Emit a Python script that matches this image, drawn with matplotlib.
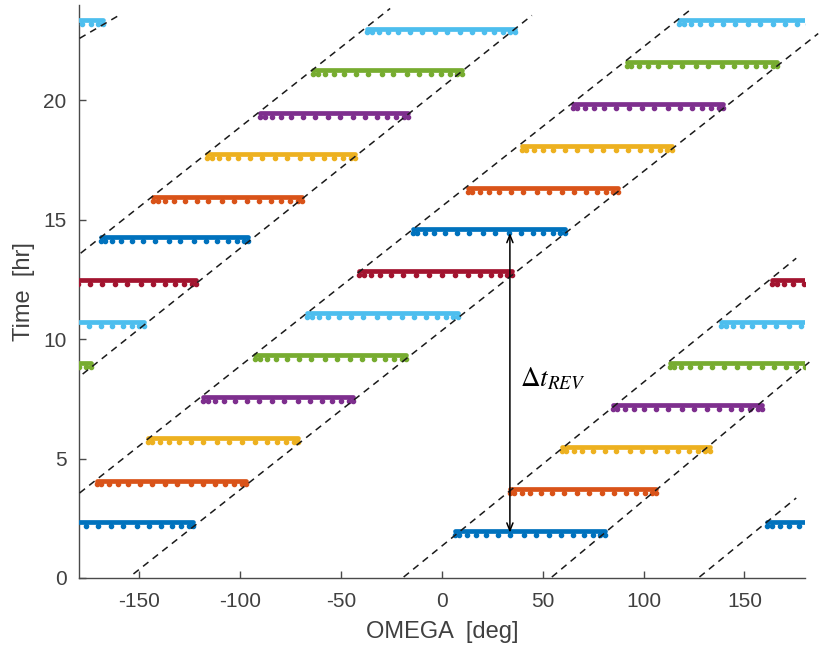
import numpy as np
import matplotlib
matplotlib.use("Agg")
import matplotlib.pyplot as plt

# MATLAB default colour order, cycled over consecutive passes
palette = ["#0072BD", "#D95319", "#EDB120", "#7E2F8E", "#77AC30", "#4DBEEE", "#A2142F"]

# First family of passes: time [hr], OMEGA at start and end of the pass [deg]
pass_a_time = [2.34, 4.07, 5.86, 7.57, 9.33, 11.09, 12.85, 14.60, 16.32, 18.08, 19.83, 21.59, 23.35]
pass_a_start = [161.4, -171.3, -146.0, -118.3, -92.6, -66.8, -41.1, -14.4, 12.9, 39.6, 64.9, 91.6, 117.8]
pass_a_end = [-123.3, -97.0, -71.3, -44.0, -17.8, 7.9, 34.7, 60.9, 87.1, 113.9, 139.6, 166.3, -168.3]

# Second family of passes
pass_b_time = [1.97, 3.72, 5.48, 7.24, 9.00, 10.70, 12.47, 14.27, 15.94, 17.74, 19.46, 21.26, 23.01]
pass_b_start = [6.4, 33.7, 59.4, 84.7, 112.9, 138.6, 163.9, -169.3, -143.1, -116.3, -90.1, -63.9, -37.1]
pass_b_end = [80.7, 106.4, 132.7, 158.9, -174.3, -148.0, -121.8, -96.0, -69.3, -43.1, -16.8, 9.9, 36.1]

# Relative positions of the sampled points along one pass (0 = start, 1 = end)
sample_frac = [0.0, 0.03, 0.08, 0.14, 0.21, 0.29, 0.37, 0.46, 0.54, 0.63, 0.71, 0.79, 0.86, 0.92, 0.97, 1.0]

# Visibility window boundaries (dashed): segment end points (OMEGA [deg], time [hr])
guide_x0 = [127.7, -179.7, -153.0, -179.7, -19.0, -179.2, 54.5, -178.2]
guide_t0 = [0.04, 3.56, 0.17, 22.60, 0.04, 13.60, 0.04, 8.54]
guide_x1 = [175.7, 122.8, 186.6, -159.4, 175.7, -25.7, 182.2, 44.6]
guide_t1 = [3.35, 23.77, 22.80, 23.60, 13.39, 23.85, 9.04, 23.56]

# Revisit interval marker
rev_omega = 33.7
rev_t_from = 1.90
rev_t_to = 14.45

x_ticks = [-150, -100, -50, 0, 50, 100, 150]
y_ticks = [0, 5, 10, 15, 20]

plt.rcParams["font.family"] = ["Liberation Sans", "DejaVu Sans"]
plt.rcParams["mathtext.fontset"] = "stix"
plt.rcParams["axes.unicode_minus"] = False

fig = plt.figure(figsize=(8.23, 6.52), dpi=100)
ax = fig.add_axes([0.096, 0.1135, 0.882, 0.879])

axis_grey = "#4a4a4a"
text_grey = "#404040"


def draw_pass(t, start, end, color):
    if end < start:
        end += 360.0
    frac = np.asarray(sample_frac)
    xs = start + (end - start) * frac
    for shift in (-360.0, 0.0, 360.0):
        ax.plot([start + shift, end + shift], [t, t], color=color, lw=3.4,
                solid_capstyle="round", zorder=3)
        ax.plot(xs + shift, np.full_like(xs, t - 0.15), linestyle="none",
                marker="o", ms=3.0, color=color, mec=color, zorder=3)


for i, (t, s, e) in enumerate(zip(pass_a_time, pass_a_start, pass_a_end)):
    draw_pass(t, s, e, palette[i % len(palette)])
for i, (t, s, e) in enumerate(zip(pass_b_time, pass_b_start, pass_b_end)):
    draw_pass(t, s, e, palette[i % len(palette)])

for x0, t0, x1, t1 in zip(guide_x0, guide_t0, guide_x1, guide_t1):
    ax.plot([x0, x1], [t0, t1], color="#1a1a1a", lw=1.1, linestyle=(0, (4.5, 3.5)),
            zorder=4, clip_on=False)

ax.annotate("", xy=(rev_omega, rev_t_to), xytext=(rev_omega, rev_t_from),
            arrowprops=dict(arrowstyle="<->,head_length=0.55,head_width=0.22",
                            color="black", lw=1.1, shrinkA=0, shrinkB=0), zorder=5)
ax.text(rev_omega + 5.0, 8.35, r"$\Delta t_{REV}$", fontsize=19.5, va="center",
        ha="left", color="black")

ax.set_xlim(-180, 180)
ax.set_ylim(0, 24)
ax.set_xticks(x_ticks)
ax.set_yticks(y_ticks)
ax.tick_params(direction="in", length=5, width=1.0, colors=axis_grey,
               labelcolor=text_grey, labelsize=15, pad=10)
ax.tick_params(axis="y", pad=9)
for side in ("top", "right"):
    ax.spines[side].set_visible(False)
for side in ("left", "bottom"):
    ax.spines[side].set_color(axis_grey)
    ax.spines[side].set_linewidth(1.0)

ax.set_xlabel("OMEGA  [deg]", fontsize=17, color=text_grey, labelpad=7)
ax.set_ylabel("Time  [hr]", fontsize=17, color=text_grey, labelpad=6)

fig.savefig("out.png", dpi=100)
